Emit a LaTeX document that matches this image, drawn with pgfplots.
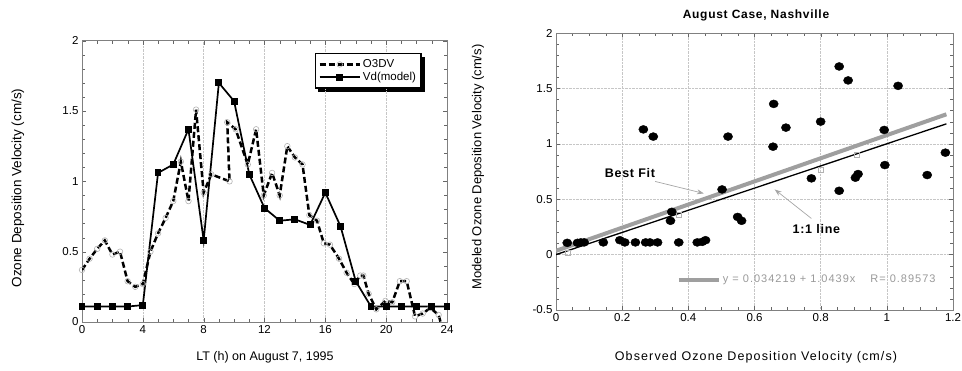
\documentclass[border=0pt]{standalone}
\usepackage{fontspec}
\setmainfont{Liberation Sans}
\newfontfamily\spaced[LetterSpace=9]{Liberation Sans}
\newfontfamily\spacedb[LetterSpace=6]{Liberation Sans}
\usepackage{pgfplots}
\pgfplotsset{compat=1.18}
\usetikzlibrary{arrows.meta}
\pgfdeclarelayer{background}
\pgfsetlayers{background,main}
\begin{document}
\begin{tikzpicture}[x=1pt,y=1pt]
\useasboundingbox (0,0) rectangle (962,371);
% ---------------- left panel ----------------
\begin{axis}[
  at={(82pt,49pt)}, anchor=south west,
  width=365pt, height=281.3pt, scale only axis,
  xmin=0, xmax=24, ymin=0, ymax=2,
  xtick={0,4,...,24}, ytick={0,0.5,...,2},
  minor x tick num=3, minor y tick num=4,
  xmajorgrids, major grid style={densely dotted, gray!45},
  axis line style={black!50}, tick style={black!60},
  tick label style={font=\fontsize{11.5}{13}\selectfont},
  /pgf/number format/assume math mode=true,
  legend style={name=leg, at={(0.638,0.956)}, anchor=north west, draw=black, line width=1.2pt,
    fill=white, font=\fontsize{11.5}{13}\selectfont, inner xsep=3pt, inner ysep=4pt, row sep=-1pt,
    legend cell align=left},
  legend image code/.code={\draw[mark repeat=2, mark phase=2, #1] plot coordinates {(0pt,0pt) (20pt,0pt) (40pt,0pt)};},
]
\addplot[black, line width=2.5pt, dash pattern=on 6pt off 3pt,
  mark=o, mark size=2.8pt, mark options={solid, gray!60, line width=0.6pt}]
coordinates {
(0,0.37)(0.5,0.45)(1,0.52)(1.5,0.58)(2,0.48)(2.5,0.50)(3,0.29)(3.5,0.25)(4,0.27)
(4.5,0.50)(5,0.63)(5.5,0.74)(6,0.86)(6.5,1.14)(7,0.86)(7.5,1.51)(8,0.92)(8.5,1.05)
(9.7,1.0)(9.55,1.42)(10.1,1.37)(10.9,1.12)(11.45,1.37)(11.95,0.9)(12.5,1.06)(13,0.9)
(13.5,1.25)(14,1.17)(14.5,1.12)(14.95,0.76)(15.45,0.72)(15.9,0.56)(16.3,0.55)(16.9,0.45)
(17.4,0.35)(17.9,0.27)(18.3,0.33)(18.5,0.33)(18.85,0.2)(19.35,0.09)(19.95,0.15)(20.4,0.14)
(20.9,0.29)(21.35,0.29)(21.9,0.04)(22.4,0.06)(22.9,0.1)(23.45,0.05)(23.7,-0.05)
};
\addlegendentry{O3DV}
\addplot[black, line width=1.7pt, mark=square*, mark size=2.6pt, mark options={solid}]
coordinates {
(0,0.11)(1,0.11)(2,0.11)(3,0.11)(4,0.12)(5,1.06)(6,1.12)(7,1.37)(8,0.58)(9,1.70)
(10,1.57)(11,1.05)(12,0.81)(13,0.72)(14,0.73)(15,0.69)(16,0.92)(17,0.68)(18,0.29)
(19,0.11)(20,0.11)(21,0.11)(22,0.11)(23,0.11)(24,0.11)
};
\addlegendentry{Vd(model)}
\end{axis}
\begin{pgfonlayer}{background}
\fill[black] ([shift={(3.5pt,-3.5pt)}]leg.south west) rectangle ([shift={(3.5pt,-3.5pt)}]leg.north east);
\end{pgfonlayer}
% ---------------- right panel ----------------
\begin{axis}[
  at={(556pt,61pt)}, anchor=south west,
  width=397pt, height=277pt, scale only axis,
  xmin=0, xmax=1.2, ymin=-0.5, ymax=2,
  xtick={0,0.2,...,1.2}, ytick={-0.5,0,...,2},
  minor x tick num=3, minor y tick num=4,
  grid=major, major grid style={densely dotted, gray!45},
  axis line style={black!50}, tick style={black!60},
  tick label style={font=\fontsize{11.5}{13}\selectfont},
  /pgf/number format/assume math mode=true,
  legend style={at={(axis cs:0.365,-0.226)}, anchor=west, draw=none, fill=none,
    font=\spaced\fontsize{11}{12}\selectfont, text=gray!80, inner sep=0pt},
  legend image code/.code={\draw[#1] (0pt,0pt) -- (40pt,0pt);},
]
\addplot[gray!75, line width=4pt] coordinates {(0,0.034219)(1.18,1.2660)};
\addlegendentry{y = 0.034219 + 1.0439x \quad R= 0.89573}
\addplot[black, line width=1.3pt, forget plot] coordinates {(0,0)(1.18,1.18)};
\addplot[only marks, mark=square, mark size=2.5pt, gray!60, forget plot] coordinates {
(0.034,0.018)(0.372,0.356)(0.80,0.77)(0.91,0.905)};
\addplot[only marks, mark=*, mark size=4pt, black, forget plot,
  mark options={xscale=1.15}] coordinates {
(0.034,0.106)(0.065,0.106)(0.075,0.11)(0.085,0.11)(0.143,0.11)(0.193,0.13)(0.208,0.11)
(0.24,0.11)(0.271,0.11)(0.284,0.11)(0.307,0.11)(0.264,1.13)(0.294,1.065)(0.346,0.305)
(0.35,0.386)(0.371,0.11)(0.427,0.11)(0.442,0.115)(0.452,0.13)(0.502,0.588)(0.52,1.065)
(0.549,0.34)(0.561,0.305)(0.656,0.974)(0.658,1.36)(0.695,1.146)(0.772,0.688)(0.8,1.2)
(0.856,1.698)(0.856,0.576)(0.883,1.572)(0.905,0.694)(0.913,0.727)(0.992,1.125)
(0.994,0.808)(1.034,1.523)(1.122,0.718)(1.177,0.92)
};
\node[font=\spacedb\bfseries\fontsize{12.5}{14}\selectfont] at (axis cs:0.2236,0.739) {Best Fit};
\draw[gray!70, -{Stealth[length=7pt,width=5pt]}, line width=0.7pt] (axis cs:0.30,0.66) -- (axis cs:0.447,0.552);
\node[font=\spacedb\bfseries\fontsize{12.5}{14}\selectfont] at (axis cs:0.787,0.232) {1:1 line};
\draw[gray!70, -{Stealth[length=7pt,width=5pt]}, line width=0.7pt] (axis cs:0.772,0.326) -- (axis cs:0.661,0.588);
\end{axis}
% ---------------- labels ----------------
\node[rotate=90, font=\fontsize{13.5}{15}\selectfont] at (18,183) {Ozone Deposition Velocity (cm/s)};
\node[font=\fontsize{12.5}{14}\selectfont] at (265,14) {LT (h) on August 7, 1995};
\node[rotate=90, font=\fontsize{13}{15}\selectfont] at (478,204) {Modeled Ozone Deposition Velocity (cm/s)};
\node[font=\spacedb\bfseries\fontsize{12}{14}\selectfont] at (756,356) {August Case, Nashville};
\node[font=\spaced\fontsize{12.5}{14}\selectfont] at (756,14) {Observed Ozone Deposition Velocity (cm/s)};
\end{tikzpicture}
\end{document}
